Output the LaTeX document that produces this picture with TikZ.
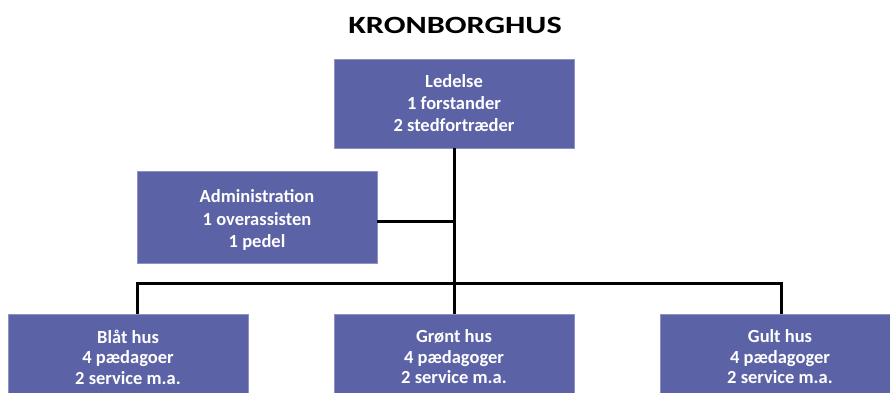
\documentclass[tikz,border=0pt]{standalone}
\usepackage{fontspec}
\setmainfont{Carlito}
\definecolor{boxblue}{RGB}{91,98,166}
\definecolor{boxedge}{RGB}{140,146,196}
\tikzset{
  unitbox/.style={draw=boxedge, line width=0.6pt, fill=boxblue, text=white,
    font=\bfseries\fontsize{18.5}{22}\selectfont, align=center,
    minimum width=240pt, inner sep=0pt, anchor=center},
  housebox/.style={unitbox, font=\bfseries\fontsize{18.5}{20.5}\selectfont, minimum height=86pt},
  conn/.style={draw=black, line width=3pt},
}
\begin{document}
\begin{tikzpicture}[x=1pt,y=-1pt]
\useasboundingbox (0,0) rectangle (890,392);
\fill[white] (0,0) rectangle (890,392);
\node[font=\bfseries\fontsize{24.8}{30}\selectfont, anchor=base, inner sep=0pt] (title) at (455,33) {\scalebox{1.3}[1]{KRONBORGHUS}};
\node[unitbox, minimum height=89pt] (led) at (454,103.5) {Ledelse\\1 forstander\\2 stedfortræder};
\node[unitbox, minimum height=92pt, text height=0pt] (adm) at (257,217) {};
\node[font=\bfseries\fontsize{18.5}{22.5}\selectfont, text=white, align=center, inner sep=0pt] (admtext) at (257,220) {Administration\\1 overassisten\\1 pedel};
\node[housebox] (blat) at (128,357) {Blåt hus\\4 pædagoer\\2 service m.a.};
\node[housebox] (gron) at (454,357) {Grønt hus\\4 pædagoger\\2 service m.a.};
\node[housebox] (gult) at (780,357) {Gult hus\\4 pædagoger\\2 service m.a.};
\coordinate (busL) at (137,283);
\coordinate (busR) at (781,283);
\coordinate (admJ) at (454,221);
\draw[conn] (led.south) -- (gron.north);
\draw[conn] (adm.east |- admJ) -- (admJ);
\draw[conn] (blat.north -| busL) -- (busL) -- (busR) -- (gult.north -| busR);
\end{tikzpicture}
\end{document}
